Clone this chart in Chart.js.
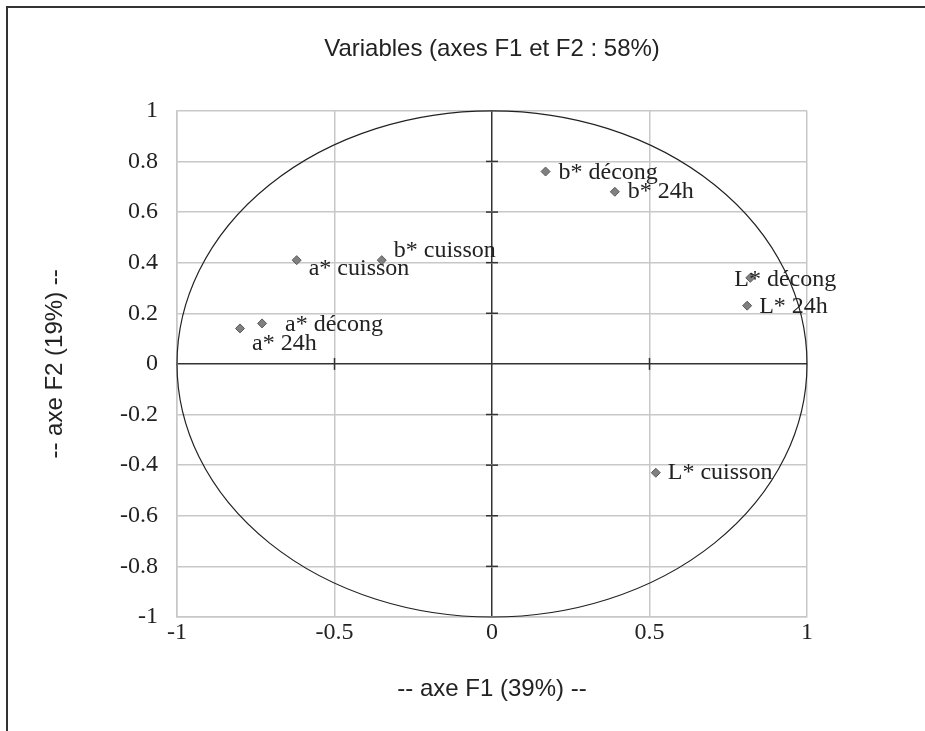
<!DOCTYPE html>
<html>
<head>
<meta charset="utf-8">
<script src="https://cdn.jsdelivr.net/npm/chart.js@4/dist/chart.umd.min.js"></script>
<style>
  html, body { margin: 0; padding: 0; background: #fff; }
  #wrap { position: relative; width: 925px; height: 731px; }
</style>
</head>
<body>
<div id="wrap"><canvas id="pca-chart" width="925" height="731"></canvas></div>
<script>
// variables and their coordinates on F1 / F2
const variables = ['b* décong', 'b* 24h', 'L* décong', 'L* 24h', 'L* cuisson',
                   'a* cuisson', 'b* cuisson', 'a* décong', 'a* 24h'];
const f1 = [0.17, 0.39, 0.82, 0.81, 0.52, -0.62, -0.35, -0.73, -0.80];
const f2 = [0.76, 0.68, 0.34, 0.23, -0.43, 0.41, 0.41, 0.16, 0.14];

const xTicks = [-1, -0.5, 0, 0.5, 1];
const yTicks = [-1, -0.8, -0.6, -0.4, -0.2, 0, 0.2, 0.4, 0.6, 0.8, 1];

// where each label sits relative to its marker (px)
const labelOffsets = [[13, 1], [13, 0], [-16, 2], [12, 1], [12, 0],
                      [12, 9], [12, -9], [23, 1], [12, 15]];

const serif = 'Liberation Serif, Times New Roman, serif';
const sans = 'Liberation Sans, Arial, sans-serif';

const circlePlugin = {
  id: 'circle',
  beforeDatasetsDraw(chart) {
    const { ctx, scales: { x, y } } = chart;
    const cx = x.getPixelForValue(0), cy = y.getPixelForValue(0);
    ctx.save();
    // tick marks crossing the zero axes
    ctx.strokeStyle = '#333';
    ctx.lineWidth = 1.5;
    xTicks.forEach(v => {
      if (v === 0 || Math.abs(v) === 1) return;
      const px = x.getPixelForValue(v);
      ctx.beginPath(); ctx.moveTo(px, cy - 6); ctx.lineTo(px, cy + 6); ctx.stroke();
    });
    yTicks.forEach(v => {
      if (v === 0 || Math.abs(v) === 1) return;
      const py = y.getPixelForValue(v);
      ctx.beginPath(); ctx.moveTo(cx - 6, py); ctx.lineTo(cx + 6, py); ctx.stroke();
    });
    // correlation circle
    ctx.strokeStyle = '#222';
    ctx.lineWidth = 1.2;
    ctx.beginPath();
    ctx.ellipse(cx, cy, x.getPixelForValue(1) - cx, cy - y.getPixelForValue(1), 0, 0, Math.PI * 2);
    ctx.stroke();
    ctx.restore();
  },
  afterDatasetsDraw(chart) {
    const { ctx } = chart;
    const meta = chart.getDatasetMeta(0);
    ctx.save();
    ctx.fillStyle = '#222';
    ctx.font = '24px ' + serif;
    ctx.textBaseline = 'middle';
    ctx.textAlign = 'left';
    meta.data.forEach((pt, i) => {
      const [dx, dy] = labelOffsets[i];
      ctx.fillText(variables[i], pt.x + dx, pt.y + dy);
    });
    ctx.restore();
  },
  afterDraw(chart) {
    const { ctx } = chart;
    ctx.save();
    ctx.strokeStyle = '#333';
    ctx.lineWidth = 2;
    ctx.beginPath();
    ctx.moveTo(7, 731); ctx.lineTo(7, 7); ctx.lineTo(925, 7);
    ctx.stroke();
    ctx.restore();
  }
};

const gridColor = ctx => ctx.tick && ctx.tick.value === 0 ? '#333' : '#c8c8c8';
const plainLabel = v => String(v);

new Chart(document.getElementById('pca-chart').getContext('2d'), {
  type: 'scatter',
  data: {
    labels: variables,
    datasets: [{
      data: f1.map((v, i) => ({ x: v, y: f2[i] })),
      pointStyle: 'rectRot',
      pointRadius: 4.5,
      pointBackgroundColor: '#808080',
      pointBorderColor: '#5a5a5a',
      pointBorderWidth: 1
    }]
  },
  options: {
    responsive: false,
    animation: false,
    layout: { padding: { left: 0, right: 118, top: 0, bottom: 0 } },
    plugins: {
      legend: { display: false },
      tooltip: { enabled: false },
      title: {
        display: true,
        text: 'Variables (axes F1 et F2 : 58%)',
        fullSize: false,
        color: '#222',
        font: { family: sans, size: 24, weight: 'normal' },
        padding: { top: 35, bottom: 47 }
      }
    },
    scales: {
      x: {
        type: 'linear',
        min: -1, max: 1,
        afterBuildTicks: s => { s.ticks = xTicks.map(v => ({ value: v })); },
        afterFit: s => { s.height = 114; },
        border: { display: true, color: '#c8c8c8', width: 1.5 },
        grid: { color: gridColor, lineWidth: 1.5, drawTicks: false },
        ticks: { color: '#222', padding: 1, font: { family: serif, size: 24 }, callback: plainLabel },
        title: {
          display: true, text: '-- axe F1 (39%) --', color: '#222',
          font: { family: sans, size: 24 }, padding: { top: 0, bottom: 27 }
        }
      },
      y: {
        type: 'linear',
        min: -1, max: 1,
        afterBuildTicks: s => { s.ticks = yTicks.map(v => ({ value: v })); },
        afterFit: s => { s.width = 177; },
        border: { display: true, color: '#c8c8c8', width: 1.5 },
        grid: { color: gridColor, lineWidth: 1.5, drawTicks: false },
        ticks: { color: '#222', padding: 19, font: { family: serif, size: 24 }, callback: plainLabel },
        title: {
          display: true, text: '-- axe F2 (19%) --', color: '#222',
          font: { family: sans, size: 24 }, padding: { top: 41, bottom: 0 }
        }
      }
    }
  },
  plugins: [circlePlugin]
});
</script>
</body>
</html>
